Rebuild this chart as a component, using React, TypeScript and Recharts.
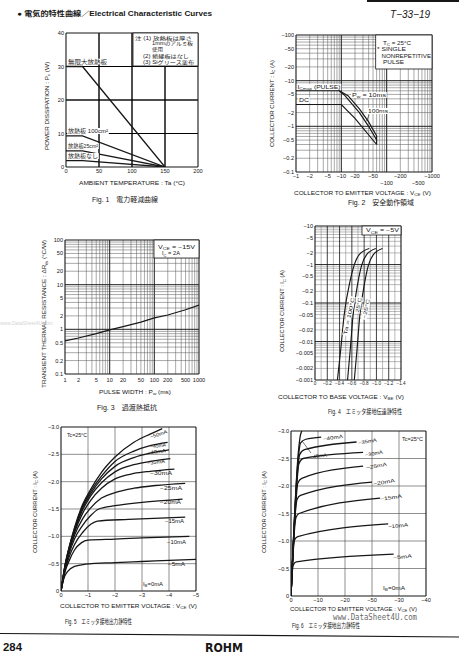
import type { ReactNode } from "react";
import { CartesianGrid, Line, LineChart, ReferenceLine, XAxis, YAxis } from "recharts";

const SANS = "'Liberation Sans', Arial, 'Noto Sans CJK JP', sans-serif";
const INK = "#171717";

// ---------- Fig.1  power derating (Ta °C -> Pc W)
const F1_TA = [0, 25, 150];
const F1_INFINITE = [30, 30, 0];
const F1_100CM2 = [9.3, 9.3, 0];
const F1_25CM2 = [4.8, 4.8, 0];
const F1_NONE = [1.9, 1.9, 0];
const F1_X_TICKS = [0, 50, 100, 150, 200];
const F1_Y_TICKS = [0, 10, 20, 30, 40];

// ---------- Fig.2  safe operating area (|Vce| V -> |Ic| A)
const F2_ICM_V = [1, 9];
const F2_ICM_I = [6, 6];
const F2_10MS_V = [9, 14, 25, 40, 60, 60];
const F2_10MS_I = [6, 4.7, 2.4, 1.25, 0.62, 0.4];
const F2_100MS_V = [9, 12, 25, 40, 60];
const F2_100MS_I = [6, 4.7, 2.0, 1.0, 0.5];
const F2_DC_V = [1, 10, 20, 60];
const F2_DC_I = [3, 3, 1.5, 0.4];
const F2_X_TICKS = [1, 2, 5, 10, 20, 50, 100, 200, 500, 1000];
const F2_X_LOWER_ROW = [100, 500];
const F2_Y_TICKS = [0.1, 0.2, 0.5, 1, 2, 5, 10, 20, 50, 100];

// ---------- Fig.3  transient thermal resistance (Pw ms -> °C/W)
const F3_PW = [1, 2, 5, 10, 20, 50, 100, 200, 500, 1000];
const F3_RTH = [0.55, 0.64, 0.8, 0.97, 1.15, 1.45, 1.8, 2.1, 2.75, 3.5];
const F3_X_TICKS = [1, 2, 5, 10, 20, 50, 100, 200, 500, 1000];
const F3_Y_TICKS = [0.1, 0.2, 0.5, 1, 2, 5, 10, 20, 50, 100];

// ---------- Fig.4  transfer characteristics (|Vbe| V -> |Ic| A)
const F4_IC = [0.001, 0.0065, 0.048, 0.35, 0.96, 1.8, 2.6];
const F4_VBE_100C = [0.365, 0.42, 0.474, 0.567, 0.638, 0.72, 0.883];
const F4_VBE_25C = [0.53, 0.575, 0.62, 0.7, 0.76, 0.84, 0.99];
const F4_VBE_M25C = [0.64, 0.685, 0.73, 0.81, 0.87, 0.95, 1.1];
const F4_X_TICKS = [0, 0.2, 0.4, 0.6, 0.8, 1.0, 1.2, 1.4];
const F4_Y_TICKS = [0.001, 0.002, 0.005, 0.01, 0.02, 0.05, 0.1, 0.2, 0.5, 1, 2, 5, 10];

// ---------- Fig.5  output characteristics, low Vce (|Vce| V -> |Ic| A)
const F5_V_5 = [0, 0.1, 0.25, 0.5, 0.9, 2, 3, 4, 5];
const F5_I_5 = [0, 0.22, 0.36, 0.45, 0.49, 0.52, 0.54, 0.56, 0.58];
const F5_V_10 = [0, 0.15, 0.3, 0.5, 0.75, 1, 2, 3, 4.75];
const F5_I_10 = [0, 0.35, 0.55, 0.75, 0.88, 0.93, 0.95, 0.97, 1.0];
const F5_V_15 = [0, 0.15, 0.3, 0.5, 0.8, 1.1, 1.35, 2.5, 4.6];
const F5_I_15 = [0, 0.38, 0.62, 0.85, 1.07, 1.22, 1.28, 1.31, 1.35];
const F5_V_20 = [0, 0.15, 0.3, 0.5, 0.8, 1.1, 1.4, 2, 3, 4.5];
const F5_I_20 = [0, 0.4, 0.68, 0.95, 1.2, 1.38, 1.5, 1.56, 1.62, 1.68];
const F5_V_25 = [0, 0.15, 0.3, 0.5, 0.8, 1.1, 1.5, 2, 2.7, 3.5, 4.6];
const F5_I_25 = [0, 0.42, 0.72, 1.02, 1.32, 1.52, 1.7, 1.8, 1.88, 1.93, 1.97];
const F5_V_30 = [0, 0.15, 0.3, 0.5, 0.8, 1.1, 1.5, 2, 2.7, 3.3, 4.2];
const F5_I_30 = [0, 0.44, 0.75, 1.07, 1.42, 1.66, 1.88, 2.05, 2.15, 2.19, 2.23];
const F5_V_35 = [0, 0.15, 0.3, 0.5, 0.8, 1.1, 1.5, 2, 2.7, 3.3, 4.05];
const F5_I_35 = [0, 0.45, 0.77, 1.1, 1.48, 1.74, 1.98, 2.18, 2.31, 2.37, 2.42];
const F5_V_40 = [0, 0.15, 0.3, 0.5, 0.8, 1.1, 1.5, 2, 2.7, 3.3, 4.0];
const F5_I_40 = [0, 0.46, 0.78, 1.12, 1.52, 1.78, 2.05, 2.28, 2.44, 2.52, 2.58];
const F5_V_45 = [0, 0.15, 0.3, 0.5, 0.8, 1.1, 1.5, 2, 2.7, 3.3, 3.95];
const F5_I_45 = [0, 0.47, 0.79, 1.14, 1.55, 1.82, 2.1, 2.37, 2.56, 2.66, 2.72];
const F5_V_50 = [0, 0.15, 0.3, 0.5, 0.8, 1.1, 1.5, 2, 2.7, 3.3, 3.75];
const F5_I_50 = [0, 0.48, 0.8, 1.16, 1.58, 1.86, 2.17, 2.45, 2.72, 2.87, 2.97];
const F5_X_TICKS = [0, 1, 2, 3, 4, 5];
const F5_Y_TICKS = [0, 0.5, 1.0, 1.5, 2.0, 2.5, 3.0];

// ---------- Fig.6  output characteristics, high Vce
const F6_V_5 = [0, 0.5, 1, 2, 38];
const F6_I_5 = [0, 0.45, 0.58, 0.62, 0.76];
const F6_V_10 = [0, 0.8, 1.3, 2.5, 36];
const F6_I_10 = [0, 0.8, 1.02, 1.08, 1.31];
const F6_V_15 = [0, 1.2, 1.8, 3, 33];
const F6_I_15 = [0, 1.15, 1.42, 1.5, 1.78];
const F6_V_20 = [0, 1.5, 2.2, 3.5, 30];
const F6_I_20 = [0, 1.45, 1.75, 1.83, 2.07];
const F6_V_25 = [0, 1.8, 2.5, 4, 26.7];
const F6_I_25 = [0, 1.7, 2.05, 2.14, 2.36];
const F6_V_30 = [0, 2.1, 2.9, 4.5, 26.7];
const F6_I_30 = [0, 2.0, 2.4, 2.5, 2.61];
const F6_V_35 = [0, 2.3, 3.2, 5, 24.3];
const F6_I_35 = [0, 2.2, 2.57, 2.66, 2.8];
const F6_V_40 = [0, 2.5, 3.5, 5.5, 11.2];
const F6_I_40 = [0, 2.4, 2.78, 2.85, 2.89];
const F6_V_45 = [0, 2.7, 3.4, 4];
const F6_I_45 = [0, 2.6, 2.9, 3.0];
const F6_X_TICKS = [0, 10, 20, 30, 40, 50];
const F6_X_LABELS = ["0", "−10", "−20", "−50", "−30", "−40"];
const F6_Y_TICKS = [0, 0.5, 1.0, 1.5, 2.0, 2.5, 3.0];

type Pt = { x: number; y: number };
const pts = (xs: number[], ys: number[]): Pt[] => xs.map((x, i) => ({ x, y: ys[i] }));

// 1..9 x 10^n grid lines inside a log range (ends excluded)
const logLines = (lo: number, hi: number) => {
  const out: number[] = [];
  for (let e = Math.floor(Math.log10(lo)); e < Math.ceil(Math.log10(hi)); e++) {
    for (let m = 1; m < 10; m++) {
      const v = Number((m * Math.pow(10, e)).toPrecision(3));
      if (v > lo * 1.001 && v < hi / 1.001) out.push(v);
    }
  }
  return out;
};

const neg = (v: number) => (v === 0 ? "0" : "−" + v);
const neg1 = (v: number) => (v === 0 ? "0" : "−" + v.toFixed(1));

const AX_W = 40;
const PAD_T = 6;
const PAD_R = 8;
const AX_H = 22;

interface PlotProps {
  x0: number; y0: number; x1: number; y1: number;
  xDomain: [number, number]; yDomain: [number, number];
  xLog?: boolean; yLog?: boolean;
  xTicks: number[]; yTicks: number[];
  xFmt: (v: number, i: number) => string;
  yFmt: (v: number) => string;
  xTickDy: number;
  xRow2?: number[];
  tickFont?: number;
  xTickFont?: number;
  minorX?: number[]; minorY?: number[]; minorColor?: string; minorWidth?: number;
  majorX?: number[]; majorY?: number[]; majorColor?: string; majorWidth?: number;
  series: { data: Pt[]; smooth?: boolean }[];
  segments?: [Pt, Pt][];
  lineWidth?: number;
}

function Plot(p: PlotProps) {
  const w = p.x1 - p.x0;
  const h = p.y1 - p.y0;
  const tf = p.tickFont ?? 5.6;
  const xf = p.xTickFont ?? tf;
  const minorX = p.minorX ?? [];
  const minorY = p.minorY ?? [];
  const xTick = (t: any) => {
    const v = t.payload.value as number;
    const extra = p.xRow2 && p.xRow2.includes(v) ? 7 : 0;
    return (
      <text x={t.x} y={t.y + p.xTickDy + extra + xf * 0.36} textAnchor="middle" fontSize={xf} fontFamily={SANS} fill={INK}>
        {p.xFmt(v, p.xTicks.indexOf(v))}
      </text>
    );
  };
  const yTick = (t: any) => (
    <text x={t.x} y={t.y + tf * 0.36} textAnchor="end" fontSize={tf} fontFamily={SANS} fill={INK}>
      {p.yFmt(t.payload.value)}
    </text>
  );
  return (
    <div style={{ position: "absolute", left: p.x0 - AX_W, top: p.y0 - PAD_T }}>
      <LineChart width={AX_W + w + PAD_R} height={PAD_T + h + AX_H} margin={{ top: PAD_T, right: PAD_R, bottom: 0, left: 0 }}>
        {(minorX.length > 0 || minorY.length > 0) && (
          <CartesianGrid
            vertical={minorX.length > 0}
            horizontal={minorY.length > 0}
            verticalValues={minorX}
            horizontalValues={minorY}
            stroke={p.minorColor ?? "#555"}
            strokeWidth={p.minorWidth ?? 0.5}
          />
        )}
        <XAxis type="number" dataKey="x" scale={p.xLog ? "log" : "linear"} domain={p.xDomain} allowDataOverflow
          ticks={p.xTicks} interval={0} tick={xTick} tickLine={false} axisLine={false} tickSize={0} tickMargin={0} height={AX_H} />
        <YAxis type="number" scale={p.yLog ? "log" : "linear"} domain={p.yDomain} allowDataOverflow
          ticks={p.yTicks} interval={0} tick={yTick} tickLine={false} axisLine={false} tickSize={0} tickMargin={2} width={AX_W} />
        {(p.majorX ?? []).map((v) => (
          <ReferenceLine key={"mx" + v} x={v} stroke={p.majorColor ?? "#111"} strokeWidth={p.majorWidth ?? 0.8} ifOverflow="visible" />
        ))}
        {(p.majorY ?? []).map((v) => (
          <ReferenceLine key={"my" + v} y={v} stroke={p.majorColor ?? "#111"} strokeWidth={p.majorWidth ?? 0.8} ifOverflow="visible" />
        ))}
        <ReferenceLine x={p.xDomain[0]} stroke={INK} strokeWidth={1.1} ifOverflow="visible" />
        <ReferenceLine x={p.xDomain[1]} stroke={INK} strokeWidth={1.1} ifOverflow="visible" />
        <ReferenceLine y={p.yDomain[0]} stroke={INK} strokeWidth={1.1} ifOverflow="visible" />
        <ReferenceLine y={p.yDomain[1]} stroke={INK} strokeWidth={1.1} ifOverflow="visible" />
        {p.series.map((s, i) => (
          <Line key={"l" + i} data={s.data} dataKey="y" type={s.smooth ? "monotone" : "linear"} stroke={INK}
            strokeWidth={p.lineWidth ?? 1.15} dot={false} activeDot={false} isAnimationActive={false} />
        ))}
        {(p.segments ?? []).map((s, i) => (
          <ReferenceLine key={"s" + i} segment={s} stroke={INK} strokeWidth={0.6} ifOverflow="visible" />
        ))}
      </LineChart>
    </div>
  );
}

// text placed by left edge, width and vertical centre
function Tx(props: { x: number; w: number; y: number; s?: number; b?: boolean; it?: boolean; bg?: boolean; r?: number; fill?: string; ff?: string; children: ReactNode }) {
  const s = props.s ?? 5.5;
  return (
    <g transform={props.r ? `rotate(${props.r} ${props.x} ${props.y})` : undefined}>
      {props.bg && <rect x={props.x - 0.8} y={props.y - s * 0.55} width={props.w + 1.6} height={s * 1.1} fill="#fff" />}
      <text x={props.x} y={props.y + s * 0.36} fontSize={s} textLength={props.w} lengthAdjust="spacingAndGlyphs"
        fontWeight={props.b ? 700 : 400} fontStyle={props.it ? "italic" : "normal"} fill={props.fill ?? INK} fontFamily={props.ff ?? SANS}>
        {props.children}
      </text>
    </g>
  );
}

// text centred on (cx, cy) and rotated
function VTx(props: { cx: number; cy: number; len: number; s?: number; r?: number; bg?: boolean; children: ReactNode }) {
  const s = props.s ?? 5.5;
  const r = props.r ?? -90;
  return (
    <g transform={`rotate(${r} ${props.cx} ${props.cy})`}>
      {props.bg && <rect x={props.cx - props.len / 2 - 0.8} y={props.cy - s * 0.55} width={props.len + 1.6} height={s * 1.1} fill="#fff" />}
      <text x={props.cx} y={props.cy + s * 0.36} textAnchor="middle" fontSize={s} textLength={props.len} lengthAdjust="spacingAndGlyphs" fill={INK} fontFamily={SANS}>
        {props.children}
      </text>
    </g>
  );
}

// "V" + subscript "CE" + " (V)"
const sb = (base: string, t: string, rest: string, s = 5.5) => [
  base,
  <tspan key="s" fontSize={s * 0.72} dy={s * 0.25}>{t}</tspan>,
  <tspan key="r" dy={-s * 0.25}>{rest}</tspan>,
];

export default function App() {
  return (
    <div style={{ position: "absolute", left: 0, top: 0, width: 459, height: 654, background: "#fff", overflow: "hidden" }}>
      {/* Fig.1 */}
      <Plot x0={66} y0={33} x1={198} y1={167} xDomain={[0, 200]} yDomain={[0, 40]}
        xTicks={F1_X_TICKS} yTicks={F1_Y_TICKS} xFmt={(v) => String(v)} yFmt={(v) => String(v)} xTickDy={4}
        minorX={[50, 100, 150]} minorY={[10, 20, 30]} minorColor="#000" minorWidth={0.9}
        majorX={[50, 100, 150]} majorY={[10, 20, 30]} majorColor="#000" majorWidth={0.9} lineWidth={1.3}
        series={[
          { data: pts(F1_TA, F1_INFINITE) },
          { data: pts(F1_TA, F1_100CM2) },
          { data: pts(F1_TA, F1_25CM2) },
          { data: pts(F1_TA, F1_NONE) },
        ]} />

      {/* Fig.2 */}
      <Plot x0={296} y0={35} x1={432} y1={172} xDomain={[1, 1000]} yDomain={[0.1, 100]} xLog yLog
        xTicks={F2_X_TICKS} yTicks={F2_Y_TICKS} xFmt={(v) => "−" + v} yFmt={(v) => "−" + v} xTickDy={3.5} xRow2={F2_X_LOWER_ROW}
        minorX={logLines(1, 1000)} minorY={logLines(0.1, 100)} majorX={[10, 100]} majorY={[1, 10]}
        series={[
          { data: pts(F2_ICM_V, F2_ICM_I) },
          { data: pts(F2_10MS_V, F2_10MS_I) },
          { data: pts(F2_100MS_V, F2_100MS_I) },
          { data: pts(F2_DC_V, F2_DC_I) },
        ]}
        segments={[[{ x: 41, y: 1.8 }, { x: 36, y: 1.3 }]]} />

      {/* Fig.3 */}
      <Plot x0={65} y0={240} x1={199} y1={374} xDomain={[1, 1000]} yDomain={[0.1, 100]} xLog yLog
        xTicks={F3_X_TICKS} yTicks={F3_Y_TICKS} xFmt={(v) => String(v)} yFmt={(v) => String(v)} xTickDy={6}
        minorX={logLines(1, 1000)} minorY={logLines(0.1, 100)} majorX={[10, 100]} majorY={[1, 10]}
        series={[{ data: pts(F3_PW, F3_RTH) }]} />

      {/* Fig.4 */}
      <Plot x0={315} y0={226} x1={401} y1={380} xDomain={[0, 1.4]} yDomain={[0.001, 10]} yLog
        xTicks={F4_X_TICKS} yTicks={F4_Y_TICKS} xFmt={(v) => (v === 0 ? "0" : "−" + v.toFixed(1))} yFmt={neg} xTickDy={3.5} xTickFont={4.6}
        minorX={[0.1, 0.3, 0.5, 0.7, 0.9, 1.1, 1.3]} minorY={logLines(0.001, 10)} minorColor="#777"
        majorX={[0.2, 0.4, 0.6, 0.8, 1.0, 1.2]} majorY={[0.01, 0.1, 1]}
        series={[
          { data: pts(F4_VBE_100C, F4_IC), smooth: true },
          { data: pts(F4_VBE_25C, F4_IC), smooth: true },
          { data: pts(F4_VBE_M25C, F4_IC), smooth: true },
        ]} />

      {/* Fig.5 */}
      <Plot x0={61} y0={427} x1={196} y1={591} xDomain={[0, 5]} yDomain={[0, 3]}
        xTicks={F5_X_TICKS} yTicks={F5_Y_TICKS} xFmt={(v) => neg(v)} yFmt={neg1} xTickDy={4} lineWidth={1.3}
        majorX={[1, 2, 3, 4]} majorY={[0.5, 1, 1.5, 2, 2.5]} majorColor="#444" majorWidth={0.6}
        series={[
          { data: pts(F5_V_5, F5_I_5), smooth: true },
          { data: pts(F5_V_10, F5_I_10), smooth: true },
          { data: pts(F5_V_15, F5_I_15), smooth: true },
          { data: pts(F5_V_20, F5_I_20), smooth: true },
          { data: pts(F5_V_25, F5_I_25), smooth: true },
          { data: pts(F5_V_30, F5_I_30), smooth: true },
          { data: pts(F5_V_35, F5_I_35), smooth: true },
          { data: pts(F5_V_40, F5_I_40), smooth: true },
          { data: pts(F5_V_45, F5_I_45), smooth: true },
          { data: pts(F5_V_50, F5_I_50), smooth: true },
        ]} />

      {/* Fig.6 */}
      <Plot x0={291} y0={431} x1={426} y1={596} xDomain={[0, 50]} yDomain={[0, 3]}
        xTicks={F6_X_TICKS} yTicks={F6_Y_TICKS} xFmt={(_v, i) => F6_X_LABELS[i]} yFmt={neg1} xTickDy={4} lineWidth={1.3}
        majorX={[10, 20, 30, 40]} majorY={[0.5, 1, 1.5, 2, 2.5]} majorColor="#444" majorWidth={0.6}
        series={[
          { data: pts(F6_V_5, F6_I_5), smooth: true },
          { data: pts(F6_V_10, F6_I_10), smooth: true },
          { data: pts(F6_V_15, F6_I_15), smooth: true },
          { data: pts(F6_V_20, F6_I_20), smooth: true },
          { data: pts(F6_V_25, F6_I_25), smooth: true },
          { data: pts(F6_V_30, F6_I_30), smooth: true },
          { data: pts(F6_V_35, F6_I_35), smooth: true },
          { data: pts(F6_V_40, F6_I_40), smooth: true },
          { data: pts(F6_V_45, F6_I_45), smooth: true },
        ]}
        segments={[[{ x: 7.4, y: 2.6 }, { x: 4.1, y: 2.82 }]]} />

      <svg width={459} height={654} style={{ position: "absolute", left: 0, top: 0, pointerEvents: "none" }}>
        {/* page header */}
        <rect x={367} y={0} width={92} height={2} fill={INK} />
        <Tx x={17} w={195} y={13} s={7} b>● 電気的特性曲線／Electrical Characteristic Curves</Tx>
        <Tx x={390} w={40} y={14} s={10} it>T−33−19</Tx>

        {/* Fig.1 texts */}
        <rect x={133} y={33} width={65} height={33} fill="#fff" stroke={INK} strokeWidth={0.8} />
        <Tx x={135} w={57} y={37.7} s={5}>注 (1) 放熱板は厚さ</Tx>
        <Tx x={152} w={41} y={43.3} s={5}>1mmのアルミ板</Tx>
        <Tx x={152} w={11} y={49} s={5}>使用</Tx>
        <Tx x={143} w={46} y={56} s={5}>(2) 絶縁板はなし</Tx>
        <Tx x={143} w={51} y={62} s={5}>(3) Siグリース塗布</Tx>
        <Tx x={68} w={39} y={61.7} bg>無限大放熱板</Tx>
        <Tx x={68} w={40} y={131} bg>放熱板 100cm²</Tx>
        <Tx x={68} w={30} y={146} bg>放熱板25cm²</Tx>
        <Tx x={68} w={30} y={156} bg>放熱板なし</Tx>
        <Tx x={79} w={106} y={182.7}>AMBIENT TEMPERATURE : Ta (°C)</Tx>
        <VTx cx={46.7} cy={106} len={88}>{sb("POWER DISSIPATION : P", "c", " (W)")}</VTx>
        <Tx x={92} w={66} y={200} s={6.5}>Fig. 1　電力軽減曲線</Tx>

        {/* Fig.2 texts */}
        <rect x={375.7} y={35} width={56.3} height={34} fill="#fff" stroke={INK} strokeWidth={0.8} />
        <Tx x={383} w={28} y={43}>{sb("T", "C", " = 25°C")}</Tx>
        <Tx x={377} w={29} y={49.3}>* SINGLE</Tx>
        <Tx x={381.5} w={49.5} y={55.7}>NONREPETITIVE</Tx>
        <Tx x={383} w={21} y={61.7}>PULSE</Tx>
        <Tx x={297.5} w={43} y={87} bg>{sb("I", "Cmax", " (PULSE)")}</Tx>
        <Tx x={299} w={10} y={100} bg>DC</Tx>
        <Tx x={352} w={34} y={95} bg>{sb("P", "w", " = 10ms")}</Tx>
        <Tx x={368} w={20} y={111} bg>100ms</Tx>
        <Tx x={294} w={137} y={192.7}>{sb("COLLECTOR TO EMITTER VOLTAGE : V", "CE", " (V)")}</Tx>
        <VTx cx={272} cy={103.5} len={87}>{sb("COLLECTOR CURRENT : I", "C", " (A)")}</VTx>
        <Tx x={348} w={66} y={203} s={6.5}>Fig. 2　安全動作領域</Tx>

        {/* Fig.3 texts */}
        <rect x={154} y={240} width={45} height={18} fill="#fff" stroke={INK} strokeWidth={0.8} />
        <Tx x={158} w={37} y={247}>{sb("V", "CE", " = −15V")}</Tx>
        <Tx x={162} w={18} y={253.5}>{sb("I", "C", " = 2A")}</Tx>
        <Tx x={99} w={72} y={391.7}>{sb("PULSE WIDTH : P", "w", " (ms)")}</Tx>
        <VTx cx={44.3} cy={314} len={148}>{sb("TRANSIENT THERMAL RESISTANCE : ΔR", "th", " (°C/W)")}</VTx>
        <Tx x={97} w={60} y={407.7} s={6.5}>Fig. 3　過渡熱抵抗</Tx>
        <Tx x={0} w={53} y={323} s={5} fill="#d4d4d4">www.DataSheet4U.com</Tx>

        {/* Fig.4 texts */}
        <rect x={362} y={226} width={39} height={9} fill="#fff" stroke={INK} strokeWidth={0.8} />
        <Tx x={366} w={33} y={230.5} s={5}>{sb("V", "CE", " = −5V", 5)}</Tx>
        <VTx cx={349} cy={316} len={38} s={5} r={-78} bg>Ta = 100°C</VTx>
        <VTx cx={358.5} cy={305} len={15} s={5} r={-78} bg>25°C</VTx>
        <VTx cx={366} cy={309} len={20} s={5} r={-78} bg>−25°C</VTx>
        <Tx x={278} w={126} y={396.7}>{sb("COLLECTOR TO BASE VOLTAGE : V", "BE", " (V)")}</Tx>
        <VTx cx={282.3} cy={311} len={82}>{sb("COLLECTOR CURRENT : I", "C", " (A)")}</VTx>
        <Tx x={328} w={74} y={411.7} s={6.5}>Fig. 4　エミッタ接地伝達静特性</Tx>

        {/* Fig.5 texts */}
        <Tx x={67} w={20} y={435} s={5}>Tc=25°C</Tx>
        <Tx x={143} w={20} y={584} s={5}>{sb("I", "B", "=0mA", 5)}</Tx>
        <Tx x={150} w={18} y={437} s={5} r={-18}>−50mA</Tx>
        <Tx x={150} w={16} y={446.7} s={5} r={-8}>−45mA</Tx>
        <Tx x={147} w={19} y={453} s={5} r={-8}>−40mA</Tx>
        <Tx x={147} w={18} y={463} s={5} r={-6}>−35mA</Tx>
        <Tx x={150} w={22} y={473} s={5}>−30mA</Tx>
        <Tx x={160} w={22} y={488} s={5}>−25mA</Tx>
        <Tx x={160} w={21} y={501.7} s={5}>−20mA</Tx>
        <Tx x={165} w={19} y={521} s={5}>−15mA</Tx>
        <Tx x={167} w={19} y={541.7} s={5}>−10mA</Tx>
        <Tx x={168} w={17} y={564} s={5}>−5mA</Tx>
        <Tx x={60} w={137} y={606}>{sb("COLLECTOR TO EMITTER VOLTAGE : V", "CE", " (V)")}</Tx>
        <VTx cx={35} cy={512} len={82}>{sb("COLLECTOR CURRENT : I", "C", " (A)")}</VTx>
        <Tx x={65} w={67} y={622} s={6.5}>Fig. 5　エミッタ接地出力静特性</Tx>

        {/* Fig.6 texts */}
        <Tx x={402} w={21} y={439} s={5}>Tc=25°C</Tx>
        <Tx x={383} w={22} y={588} s={5}>{sb("I", "B", "=0mA", 5)}</Tx>
        <Tx x={323} w={20} y={439} s={5} r={-8}>−40mA</Tx>
        <Tx x={358} w={19} y={443} s={5} r={-10}>−35mA</Tx>
        <Tx x={310} w={17} y={456.7} s={5} r={-6}>−45mA</Tx>
        <Tx x={365} w={18} y={455} s={5} r={-10}>−30mA</Tx>
        <Tx x={366} w={21} y={467.7} s={5} r={-10}>−25mA</Tx>
        <Tx x={373} w={22} y={484} s={5} r={-10}>−20mA</Tx>
        <Tx x={380} w={22} y={499} s={5} r={-8}>−15mA</Tx>
        <Tx x={388} w={20} y={526.7} s={5} r={-6}>−10mA</Tx>
        <Tx x={393} w={19} y={557.7} s={5} r={-6}>−5mA</Tx>
        <Tx x={290} w={127} y={609}>{sb("COLLECTOR TO EMITTER VOLTAGE : V", "CE", " (V)")}</Tx>
        <Tx x={333} w={84} y={617} s={8} fill="#6a6a6a" ff="'DejaVu Sans Mono', monospace">www.DataSheet4U.com</Tx>
        <VTx cx={264} cy={512} len={82}>{sb("COLLECTOR CURRENT : I", "C", " (A)")}</VTx>
        <Tx x={292} w={68} y={626} s={6.5}>Fig. 6　エミッタ接地出力静特性</Tx>

        {/* footer */}
        <line x1={0} y1={633.5} x2={459} y2={637} stroke={INK} strokeWidth={1.2} />
        <Tx x={3} w={19} y={647} s={11} b>284</Tx>
        <Tx x={205} w={38} y={647.5} s={12} b ff="'DejaVu Sans', sans-serif">ROHM</Tx>
      </svg>
    </div>
  );
}
